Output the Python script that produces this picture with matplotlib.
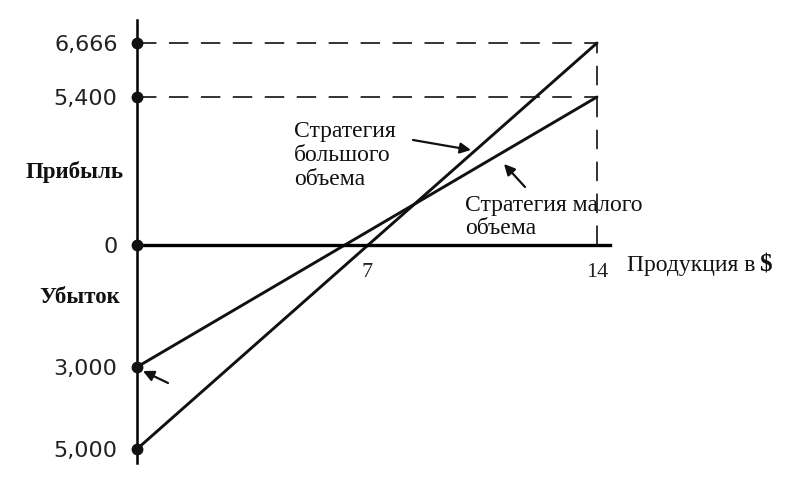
import numpy as np
import matplotlib
matplotlib.use('Agg')
import matplotlib.pyplot as plt

plt.rcParams['lines.scale_dashes'] = False

# ---- data ----
output = [0, 14]
large_volume = [-5000, 6666]      # Стратегия большого объема
small_volume = [-3000, 5400]      # Стратегия малого объема
y_ticks = [-5000, -3000, 0, 5400, 6666]
y_tick_labels = ['5,000', '3,000', '0', '5,400', '6,666']
x_ticks = [7, 14]
x_tick_labels = ['7', '14']

# schematic (not-to-scale) vertical axis of the original textbook figure
_vals = np.array([-9000, -5000, -3000, 0, 5400, 6666, 10000], dtype=float)
_pos = np.array([-368, -204, -122, 0, 148, 202, 345], dtype=float)

def fwd(v):
    return np.interp(v, _vals, _pos)

def inv(p):
    return np.interp(p, _pos, _vals)

W, H = 800, 490
fig = plt.figure(figsize=(W / 100, H / 100), dpi=100)
fig.patch.set_facecolor('white')
ax = fig.add_axes([137 / W, (H - 463) / H, (610 - 137) / W, (463 - 20) / H])
ax.set_yscale('function', functions=(fwd, inv))
ax.set_xlim(0, output[-1] * (610 - 137) / (597 - 137))
ax.set_ylim(inv(-218), inv(225))

for s in ('top', 'right'):
    ax.spines[s].set_visible(False)
ax.spines['left'].set_linewidth(1.8)
ax.spines['bottom'].set_position(('data', 0))
ax.spines['bottom'].set_linewidth(2.4)

ink = '#111111'
ax.set_yticks(y_ticks, y_tick_labels)
ax.set_xticks(x_ticks, x_tick_labels)
ax.minorticks_off()
ax.tick_params(axis='y', length=0, pad=14, labelsize=16, labelcolor='#222222')
ax.tick_params(axis='x', length=0, pad=13, labelsize=16, labelcolor='#222222')
for lab in ax.get_xticklabels():
    lab.set_fontfamily('Liberation Serif')
for lab in ax.get_yticklabels():
    lab.set_fontfamily('DejaVu Sans')

# guide lines
dash = dict(color=ink, lw=1.2, linestyle=(0, (14, 9)))
ax.plot([0, output[-1]], [large_volume[-1]] * 2, **dash)
ax.plot([0, output[-1]], [small_volume[-1]] * 2, **dash)
ax.plot([output[-1]] * 2, [0, large_volume[-1]], **dash)

# strategy lines
ax.plot(output, large_volume, color=ink, lw=2.1, solid_capstyle='round')
ax.plot(output, small_volume, color=ink, lw=2.1, solid_capstyle='round')

# dots on the y axis
ax.plot([0] * len(y_ticks), y_ticks, 'o', ms=7.5, color=ink, clip_on=False, zorder=6)

def ftext(px, py, s, **kw):
    fig.text(px / W, 1 - py / H, s, color=ink, **kw)

serif = 'Liberation Serif'
ftext(26, 172, 'Прибыль', ha='left', va='center', fontsize=16.5,
      fontfamily=serif, fontweight='bold')
ftext(39, 297, 'Убыток', ha='left', va='center', fontsize=16.5,
      fontfamily=serif, fontweight='bold')
ftext(294, 121, 'Стратегия\nбольшого\nобъема', ha='left', va='top', fontsize=17,
      fontfamily=serif, linespacing=1.2)
ftext(465, 195, 'Стратегия малого\nобъема', ha='left', va='top', fontsize=17,
      fontfamily=serif, linespacing=1.15)
ftext(627, 266, 'Продукция в', ha='left', va='center', fontsize=17,
      fontfamily=serif)
ftext(759, 265, '$', ha='left', va='center', fontsize=18,
      fontfamily=serif, fontweight='bold')

def arrow(x0, y0, x1, y1):
    ax.annotate('', xy=(x1, H - y1), xytext=(x0, H - y0),
                xycoords='figure pixels', textcoords='figure pixels',
                arrowprops=dict(arrowstyle='-|>', color=ink, lw=1.6,
                                mutation_scale=16, shrinkA=0, shrinkB=0))

arrow(413, 140, 471, 150)
arrow(525, 187, 504, 164)
arrow(168, 383, 143, 371)

fig.savefig('out.png', dpi=100, facecolor='white')
